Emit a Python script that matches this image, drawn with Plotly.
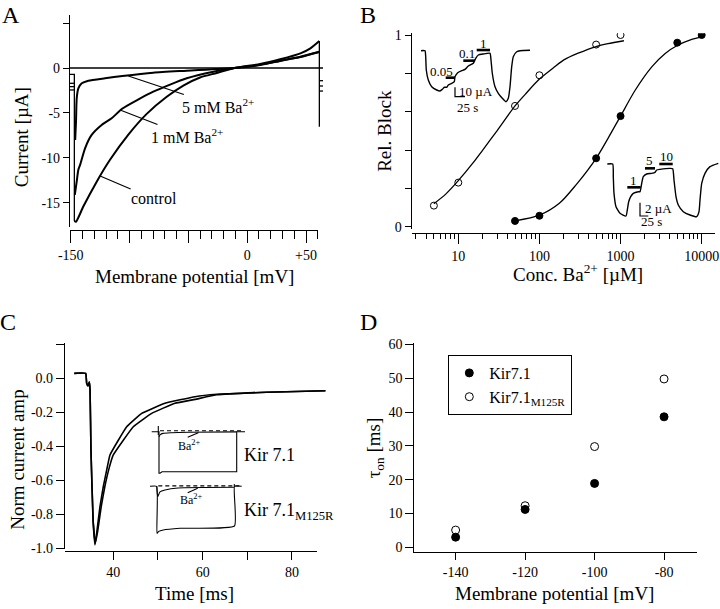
import plotly.graph_objects as go

W, H = 720, 609
FONT = "Liberation Serif"

# ---------------- Panel A : ramp I-V (mV, uA) ----------------
a_ctrl_v = [-146.9, -145.5, -139.3, -127.9, -116.6, -101.0, -85.4, -68.4, -54.3, -40.1, -25.9, -10.9, 11.0, 28.0, 45.2, 53.7, 61.3]
a_ctrl_i = [-17.0, -17.08, -15.4, -12.63, -10.2, -7.4, -5.1, -3.2, -1.95, -1.05, -0.55, 0.0, 0.45, 0.97, 1.63, 2.19, 3.0]
a_1mm_v = [-146.5, -144.9, -143.5, -142.1, -137.8, -132.2, -123.7, -115.2, -106.0, -79.8, -51.4, -28.8, -10.9, 11.0, 28.0, 45.2, 61.3]
a_1mm_i = [-14.1, -12.6, -11.3, -10.8, -8.92, -7.44, -6.33, -5.59, -4.5, -2.63, -1.14, -0.41, 0.0, 0.35, 0.81, 1.26, 1.81]
a_5mm_v = [-146.2, -145.5, -144.9, -143.5, -140.6, -135.0, -120.8, -106.0, -79.8, -51.4, -10.9, 11.0, 28.0, 45.2, 61.3]
a_5mm_i = [-8.0, -5.97, -3.37, -2.26, -1.7, -1.41, -1.14, -0.89, -0.52, -0.3, 0.0, 0.33, 0.78, 1.22, 1.78]
# holding-current marks, step edges and zero line
a_mark_v = [-150.6, -146.9, -146.9, None, -150.6, -146.9, None, -150.6, -146.9, None, -150.6, -146.9, None,
            61.3, 61.3, None, 61.3, 64.4, None, 61.3, 64.4, None, 61.3, 64.4, None, -150.6, 64.4]
a_mark_i = [-0.7, -0.7, -17.0, None, -1.7, -1.7, None, -2.07, -2.07, None, -2.44, -2.44, None,
            3.0, -6.52, None, -1.41, -1.41, None, -2.0, -2.0, None, -2.56, -2.56, None, 0.0, 0.0]
a_xtick_vals = [-150, -100, -50, 0, 50]
a_xtick_text = ["-150", "", "", "0", "+50"]
a_ytick_vals = [5, 0, -5, -10, -15]
a_ytick_text = ["", "0", "-5", "-10", "-15"]

# ---------------- Panel B : dose response ----------------
b_conc_open = [5, 10, 50, 100, 500, 1000]
b_block_open = [0.11, 0.23, 0.63, 0.79, 0.95, 1.0]
b_conc_fill = [50, 100, 500, 1000, 5000, 10000]
b_block_fill = [0.03, 0.057, 0.357, 0.577, 0.96, 1.0]
b_fit_open_x = [5, 7, 10, 15, 20, 30, 50, 70, 100, 150, 200, 300, 500, 700, 1100]
b_fit_open_y = [0.12, 0.17, 0.24, 0.33, 0.40, 0.50, 0.63, 0.70, 0.77, 0.83, 0.87, 0.905, 0.94, 0.955, 0.97]
b_fit_fill_x = [50, 100, 176, 281, 500, 720, 1000, 1520, 2440, 3550, 5000, 7550, 10000]
b_fit_fill_y = [0.03, 0.06, 0.122, 0.217, 0.357, 0.47, 0.577, 0.713, 0.835, 0.904, 0.945, 0.977, 0.99]
b_xtick_vals = [10, 100, 1000, 10000]
b_xminor_vals = [m * d for d in (1, 10, 100, 1000) for m in range(2, 10) if m * d > 2.7]
b_ytick_vals = [0, 0.2, 0.4, 0.6, 0.8, 1.0]
b_ytick_text = ["0", "", "", "", "", "1"]

# inset 1 (s, uA)
b_in1_t = [0, 10, 11.75, 13.25, 18.25, 26.75, 39.25, 47.5, 53.25, 58.25, 64.25, 68.25, 76.75, 83.25, 85, 91.75,
           101.75, 110, 118.25, 130.75, 136.75, 143.25, 155.75, 172.5, 175, 178.25, 185, 193.25, 203.25, 212.5,
           218.25, 222.5, 226.75, 230.75, 239.25, 247.5, 272.5]
b_in1_i = [0, 0, -6.4, -20.5, -31.2, -38.3, -41.8, -42.9, -41.1, -38.9, -38.9, -36.5, -34.7, -33.0, -27.7, -23.4,
           -21.3, -19.8, -16.3, -13.4, -8.1, -4.6, -3.5, -2.8, -9.9, -24.0, -38.3, -45.3, -50.6, -54.3,
           -50.6, -38.3, -17.0, -6.4, -1.1, 0, 0.4]
b_in1_bar_t = [61.75, 85, None, 105.75, 135, None, 139.25, 172.5]
b_in1_bar_i = [-28.7, -28.7, None, -10.6, -10.6, None, 0.7, 0.7]
b_in1_bar_lbl = ["0.05", "0.1", "1"]
b_in1_lbl_t = [51.75, 114.25, 155.75]
b_in1_lbl_i = [-22.3, -2.8, 7.9]
b_in1_scale_t = [85, 85, 110]
b_in1_scale_i = [-38.9, -48.9, -48.9]

# inset 2 (s, uA)
b_in2_t = [0, 16.2, 18, 20.1, 26.1, 38.1, 56.1, 60, 64.2, 70.2, 78, 93, 98.1, 103.2, 108, 118.2, 133.2, 143.1,
           148.2, 158.1, 188.1, 196.2, 200.1, 206.1, 213, 228, 248.1, 268.2, 275.1, 278.1, 283.2, 293.1, 308.1, 333]
b_in2_i = [0, 0, -1.9, -4.4, -6.4, -7.4, -7.8, -6.9, -5.66, -4.9, -4.4, -4.16, -4.16, -2.9, -1.9, -1.5, -1.4, -1.25,
           -0.9, -0.8, -0.65, -0.7, -2.4, -4.9, -6.15, -7.15, -7.65, -7.9, -7.15, -5.4, -2.9, -1.4, -0.4, 0.1]
b_in2_bar_t = [60, 100.2, None, 113.1, 143.1, None, 156, 196.2]
b_in2_bar_i = [-3.5, -3.5, None, -0.65, -0.65, None, 0, 0]
b_in2_bar_lbl = ["1", "5", "10"]
b_in2_lbl_t = [78, 126, 176.1]
b_in2_lbl_i = [-2.5, 0.5, 1.2]
b_in2_scale_t = [98.1, 98.1, 123]
b_in2_scale_i = [-5.8, -7.8, -7.8]

# ---------------- Panel C : normalized current vs time ----------------
c_t_fast = [31.27, 33.82, 34.04, 34.34, 34.63, 34.8, 35.0, 35.46, 35.9, 36.28, 37.02, 37.76, 38.52, 39.26, 43.0,
            46.36, 51.57, 58.3, 63.2, 74.3, 87.5]
c_i_fast = [0.029, 0.029, -0.029, -0.045, -0.022, -0.07, -0.42, -0.83, -0.98, -0.912, -0.755, -0.638, -0.54,
            -0.451, -0.285, -0.206, -0.147, -0.108, -0.094, -0.082, -0.073]
c_t_slow = [31.27, 33.82, 34.04, 34.34, 34.63, 34.8, 35.0, 35.5, 35.96, 36.5, 37.3, 38.1, 38.95, 40.0, 44.48,
            48.6, 53.8, 58.3, 63.2, 74.3, 87.5]
c_i_slow = [0.029, 0.029, -0.029, -0.045, -0.022, -0.07, -0.42, -0.84, -0.97, -0.9, -0.755, -0.638, -0.54,
            -0.451, -0.285, -0.206, -0.147, -0.124, -0.097, -0.082, -0.073]
c_xtick_vals = [40, 50, 60, 70, 80]
c_xtick_text = ["40", "", "60", "", "80"]
c_ytick_vals = [0.2, 0.0, -0.2, -0.4, -0.6, -0.8, -1.0]
c_ytick_text = ["", "0.0", "-0.2", "-0.4", "-0.6", "-0.8", "-1.0"]

# inset traces (a.u. time, normalized current)
c1_ctrl_t = [-73, 0, 0, 10, 30, 777, 777, 860]
c1_ctrl_i = [0, 0, -1.0, -1.0, -0.962, -0.962, 0, 0]
c1_ba_t = [0, 13, 40, 127, 300, 777]
c1_ba_i = [-0.12, -0.07, -0.04, -0.024, -0.012, -0.005]
c1_dash_t = [10, 843]
c1_dash_i = [0.024, 0.024]
c1_tick_t = [-7, -7, None, 287, 393]
c1_tick_i = [0.137, -0.08, None, -0.135, -0.024]

c2_ctrl_t = [-67, 0, 3, 20, 66, 233, 778, 778, 850]
c2_ctrl_i = [0, 0, -1.0, -0.96, -0.93, -0.894, -0.845, 0, 0]
c2_ba_t = [0, 10, 33, 83, 213, 773]
c2_ba_i = [0, -0.22, -0.12, -0.08, -0.036, -0.02]
c2_dash_t = [16, 850]
c2_dash_i = [0.01, 0.01]
c2_tick_t = [776, 776, None, 310, 410]
c2_tick_i = [0.05, 0.0, None, -0.136, -0.043]

# ---------------- Panel D : tau_on ----------------
d_v = [-140, -120, -100, -80]
d_kir = [3.0, 11.2, 18.9, 38.6]
d_m125r = [5.1, 12.3, 29.8, 49.8]
d_xtick_vals = [-140, -120, -100, -80]
d_xtick_text = ["-140", "-120", "-100", "-80"]
d_ytick_vals = [0, 10, 20, 30, 40, 50, 60]
d_ytick_text = ["0", "10", "20", "30", "40", "50", "60"]


def hx(a, b):
    return [a / W, b / W]


def vy(top, bottom):
    return [1 - bottom / H, 1 - top / H]


fig = go.Figure()


def line(x, y, xa, ya, width=1.6, shape="linear", dash=None, smooth=None):
    ln = dict(color="black", width=width, shape=shape)
    if dash:
        ln["dash"] = dash
    if smooth is not None:
        ln["smoothing"] = smooth
    fig.add_trace(go.Scatter(x=x, y=y, mode="lines", line=ln, xaxis=xa, yaxis=ya,
                             showlegend=False, hoverinfo="skip", connectgaps=False))


# Panel A
line(a_mark_v, a_mark_i, "x", "y", width=1.3)
line(a_ctrl_v, a_ctrl_i, "x", "y", width=2, shape="spline", smooth=0.6)
line(a_1mm_v, a_1mm_i, "x", "y", width=2, shape="spline", smooth=0.6)
line(a_5mm_v, a_5mm_i, "x", "y", width=2, shape="spline", smooth=0.6)
fig.add_trace(go.Scatter(x=[], y=[], xaxis="x9", yaxis="y", showlegend=False))

# Panel B
line(b_fit_open_x, b_fit_open_y, "x2", "y2", width=1.3, shape="spline", smooth=0.8)
line(b_fit_fill_x, b_fit_fill_y, "x2", "y2", width=1.3, shape="spline", smooth=0.8)
fig.add_trace(go.Scatter(x=b_conc_open, y=b_block_open, mode="markers", xaxis="x2", yaxis="y2", showlegend=False,
                         marker=dict(symbol="circle-open", size=7, color="black", line=dict(width=1))))
fig.add_trace(go.Scatter(x=b_conc_fill, y=b_block_fill, mode="markers", xaxis="x2", yaxis="y2", showlegend=False,
                         marker=dict(symbol="circle", size=7, color="black", line=dict(width=1, color="black"))))
line(b_in1_t, b_in1_i, "x5", "y5", width=1.4, shape="spline", smooth=0.5)
line(b_in1_bar_t, b_in1_bar_i, "x5", "y5", width=2.6)
line(b_in1_scale_t, b_in1_scale_i, "x5", "y5", width=1.2)
line(b_in2_t, b_in2_i, "x6", "y6", width=1.4, shape="spline", smooth=0.5)
line(b_in2_bar_t, b_in2_bar_i, "x6", "y6", width=2.6)
line(b_in2_scale_t, b_in2_scale_i, "x6", "y6", width=1.2)

# Panel C
line(c_t_slow, c_i_slow, "x3", "y3", width=1.6, shape="spline", smooth=0.3)
line(c_t_fast, c_i_fast, "x3", "y3", width=1.6, shape="spline", smooth=0.3)
fig.add_trace(go.Scatter(x=[], y=[], xaxis="x10", yaxis="y3", showlegend=False))
line(c1_ctrl_t, c1_ctrl_i, "x7", "y7", width=1.1)
line(c1_ba_t, c1_ba_i, "x7", "y7", width=1.1, shape="spline", smooth=0.6)
line(c1_dash_t, c1_dash_i, "x7", "y7", width=1.1, dash="4px,3px")
line(c1_tick_t, c1_tick_i, "x7", "y7", width=1.1)
line(c2_ctrl_t, c2_ctrl_i, "x8", "y8", width=1.1, shape="spline", smooth=0.4)
line(c2_ba_t, c2_ba_i, "x8", "y8", width=1.1, shape="spline", smooth=0.6)
line(c2_dash_t, c2_dash_i, "x8", "y8", width=1.1, dash="4px,3px")
line(c2_tick_t, c2_tick_i, "x8", "y8", width=1.1)

# Panel D
fig.add_trace(go.Scatter(x=d_v, y=d_kir, mode="markers", xaxis="x4", yaxis="y4", name="Kir7.1",
                         marker=dict(symbol="circle", size=8, color="black", line=dict(width=1, color="black"))))
fig.add_trace(go.Scatter(x=d_v, y=d_m125r, mode="markers", xaxis="x4", yaxis="y4", name="Kir7.1<sub>M125R</sub>",
                         marker=dict(symbol="circle-open", size=8, color="black", line=dict(width=1))))

TF = dict(family=FONT, size=14, color="black")
base = dict(showline=True, linecolor="black", linewidth=1.2, ticks="outside", tickcolor="black", tickwidth=1.2,
            tickfont=TF, showgrid=False, zeroline=False, fixedrange=True, tickmode="array", automargin=False)
hidden = dict(visible=False, fixedrange=True, showgrid=False, zeroline=False, automargin=False)

layout = dict(
    template="none",
    width=W, height=H, margin=dict(l=0, r=0, t=0, b=0, pad=0, autoexpand=False),
    paper_bgcolor="white", plot_bgcolor="rgba(0,0,0,0)",
    font=dict(family=FONT, color="black"),
    showlegend=True,
    legend=dict(x=448.3 / W, y=1 - 355 / H, xanchor="left", yanchor="top", bordercolor="black", borderwidth=1,
                bgcolor="white", font=dict(family=FONT, size=16, color="black"), tracegroupgap=0),
    # Panel A
    xaxis=dict(hidden, domain=hx(70, 323), range=[-150.6, 64.4], anchor="y"),
    xaxis9=dict(base, domain=hx(70, 318.3), range=[-150.6, 60.4], anchor="free", position=1 - 230 / H,
                tickvals=a_xtick_vals, ticktext=a_xtick_text, ticklen=12,
                minor=dict(tickmode="linear", tick0=0, dtick=10, ticklen=8, ticks="outside", tickcolor="black",
                           tickwidth=1.2)),
    yaxis=dict(base, domain=vy(15, 227), range=[-17.67, 5.89], anchor="x", tickvals=a_ytick_vals,
               ticktext=a_ytick_text, ticklen=6),
    # Panel B
    xaxis2=dict(base, type="log", domain=hx(411.7, 715), range=[0.4256, 4.164], anchor="free",
                position=1 - 233.3 / H, tickvals=b_xtick_vals, ticktext=[str(v) for v in b_xtick_vals], ticklen=10,
                minor=dict(tickmode="array", tickvals=b_xminor_vals, ticklen=5, ticks="outside", tickcolor="black",
                           tickwidth=1.2)),
    yaxis2=dict(base, domain=vy(33.3, 229), range=[-0.012, 1.0089], anchor="x2", tickvals=b_ytick_vals,
                ticktext=b_ytick_text, ticklen=6),
    xaxis5=dict(hidden, domain=hx(415, 535), range=[-15, 285], anchor="y5"),
    yaxis5=dict(hidden, domain=vy(38, 112), range=[-65.2, 13.5], anchor="x5"),
    xaxis6=dict(hidden, domain=hx(600, 720), range=[-21.9, 338.1], anchor="y6"),
    yaxis6=dict(hidden, domain=vy(145, 228), range=[-9.6, 2.85], anchor="x6"),
    # Panel C
    xaxis3=dict(hidden, domain=hx(65, 327), range=[29.19, 87.85], anchor="y3"),
    xaxis10=dict(base, domain=hx(65, 316.7), range=[29.19, 85.53], anchor="free", position=1 - 550.7 / H,
                 tickvals=c_xtick_vals, ticktext=c_xtick_text, ticklen=8),
    yaxis3=dict(base, domain=vy(343.3, 549.3), range=[-1.006, 0.206], anchor="x3", tickvals=c_ytick_vals,
                ticktext=c_ytick_text, ticklen=8),
    xaxis7=dict(hidden, domain=hx(145, 250), range=[-140, 910], anchor="y7"),
    yaxis7=dict(hidden, domain=vy(420, 480), range=[-1.161, 0.281], anchor="x7"),
    xaxis8=dict(hidden, domain=hx(145, 250), range=[-117, 933], anchor="y8"),
    yaxis8=dict(hidden, domain=vy(480, 540), range=[-1.143, 0.134], anchor="x8"),
    # Panel D
    xaxis4=dict(base, domain=hx(414.3, 696.7), range=[-151.9, -70.6], anchor="y4", tickvals=d_xtick_vals,
                ticktext=d_xtick_text, ticklen=7),
    yaxis4=dict(base, domain=vy(343.3, 551.7), range=[-1.3, 60.35], anchor="x4", tickvals=d_ytick_vals,
                ticktext=d_ytick_text, ticklen=8),
)

ann = []


def paper_text(text, x, y, size=19, angle=0):
    ann.append(dict(text=text, x=x / W, y=1 - y / H, xref="paper", yref="paper", showarrow=False,
                    xanchor="center", yanchor="middle", textangle=angle,
                    font=dict(family=FONT, size=size, color="black")))


def data_text(text, x, y, xr, yr, size=13, xanchor="center"):
    ann.append(dict(text=text, x=x, y=y, xref=xr, yref=yr, showarrow=False, xanchor=xanchor, yanchor="middle",
                    font=dict(family=FONT, size=size, color="black")))


def leader(text, x, y, ax, ay, size=16):
    ann.append(dict(text=text, x=x, y=y, xref="x", yref="y", ax=ax, ay=ay, showarrow=True, arrowhead=0,
                    arrowwidth=1.2, arrowcolor="black", standoff=0, startstandoff=0,
                    font=dict(family=FONT, size=size, color="black")))


# panel letters
paper_text("A", 11, 15, 24)
paper_text("B", 368, 15, 24)
paper_text("C", 8, 322, 24)
paper_text("D", 368, 322, 24)
# axis titles
paper_text("Current [µA]", 21.7, 137.5, 19, -90)
paper_text("Membrane potential [mV]", 194.3, 276.7, 19)
paper_text("Rel. Block", 385, 130.8, 19, -90)
paper_text("Conc. Ba<sup>2+</sup> [µM]", 578.3, 273.3, 19)
paper_text("Norm current amp", 16.7, 460, 19, -90)
paper_text("Time [ms]", 194.7, 593.3, 19)
paper_text("τ<sub>on</sub> [ms]", 375, 448.3, 19, -90)
paper_text("Membrane potential [mV]", 554.3, 593.3, 19)

# panel A curve labels
leader("5 mM Ba<sup>2+</sup>", -101, -0.89, 90, 30)
leader("1 mM Ba<sup>2+</sup>", -108, -4.67, 67, 26)
leader("control", -125, -12.0, 54, 23)

# panel B inset labels
for s, t, i in zip(b_in1_bar_lbl, b_in1_lbl_t, b_in1_lbl_i):
    data_text(s, t, i, "x5", "y5", 13)
data_text("10 µA", 89, -43.6, "x5", "y5", 13, "left")
data_text("25 s", 85, -60.2, "x5", "y5", 13, "left")
for s, t, i in zip(b_in2_bar_lbl, b_in2_lbl_t, b_in2_lbl_i):
    data_text(s, t, i, "x6", "y6", 13)
data_text("2 µA", 107, -6.65, "x6", "y6", 13, "left")
data_text("25 s", 96, -8.55, "x6", "y6", 13, "left")

# panel C inset labels
data_text("Ba<sup>2+</sup>", 300, -0.32, "x7", "y7", 12)
data_text("Kir 7.1", 827, -0.56, "x7", "y7", 18, "left")
data_text("Ba<sup>2+</sup>", 350, -0.29, "x8", "y8", 12)
data_text("Kir 7.1<sub>M125R</sub>", 850, -0.54, "x8", "y8", 18, "left")

layout["annotations"] = ann
fig.update_layout(**layout)
fig.write_html("out.html", config={"displayModeBar": False},
               post_script="document.body.style.margin='0';document.body.style.padding='0';")
